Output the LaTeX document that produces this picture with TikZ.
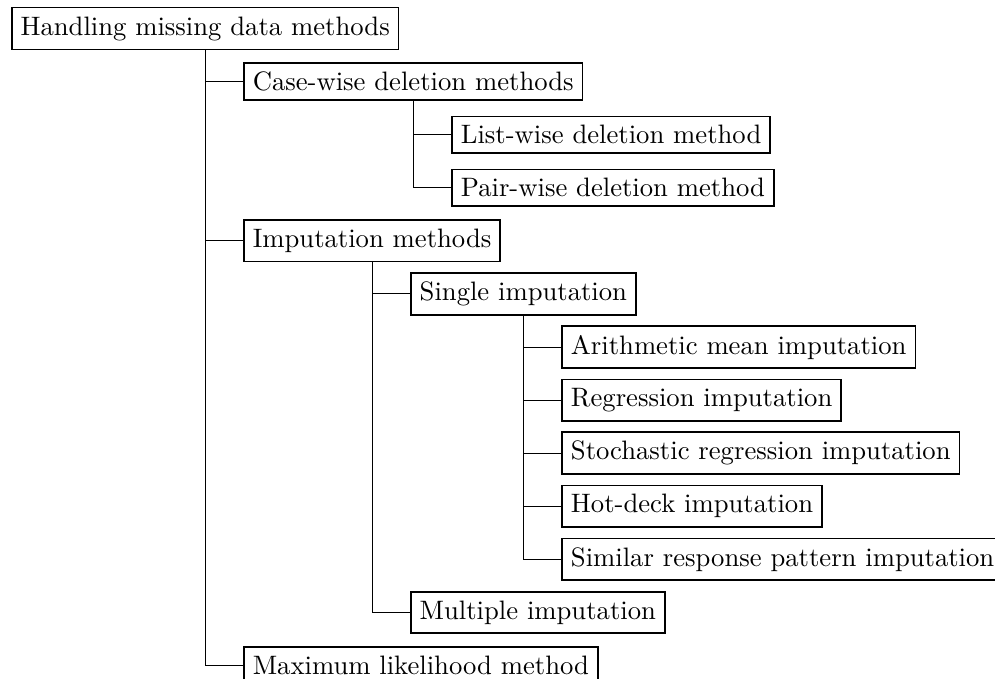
\documentclass[tikz,border=0pt]{standalone}
\usepackage{tikz}
\usetikzlibrary{positioning}

\begin{document}
\begin{tikzpicture}[node distance=0.7cm,on grid]
    \tikzstyle{method}=[shape=rectangle,draw,semithick,anchor=west]
    \tikzstyle{branch}=[to path={|- (\tikztotarget)}]

    \useasboundingbox (-4.1pt,10.7pt) rectangle (369.2pt,-244pt);

    \node[method] (root) at (0,0) {Handling missing data methods};
    \node[method, below right=0.7cm and 0.5cm of root, anchor=west] (case) {Case-wise deletion methods};
    \node[method, below right=0.7cm and 0.5cm of case, anchor=west] (list) {List-wise deletion method};
    \node[method, below=0.7cm of list.west, anchor=west] (pair) {Pair-wise deletion method};
    \node[method, below=2.1cm of case.west, anchor=west] (imp) {Imputation methods};
    \node[method, below right=0.7cm and 0.5cm of imp, anchor=west] (single) {Single imputation};
    \node[method, below right=0.7cm and 0.5cm of single, anchor=west] (mean) {Arithmetic mean imputation};
    \node[method, below=0.7cm of mean.west, anchor=west] (regr) {Regression imputation};
    \node[method, below=0.7cm of regr.west, anchor=west] (stoch) {Stochastic regression imputation};
    \node[method, below=0.7cm of stoch.west, anchor=west] (hot) {Hot-deck imputation};
    \node[method, below=0.7cm of hot.west, anchor=west] (similar) {Similar response pattern imputation};
    \node[method, below=4.2cm of single.west, anchor=west] (multi) {Multiple imputation};
    \node[method, below=5.6cm of imp.west, anchor=west] (maxl) {Maximum likelihood method};

    \path[draw]
    (root.south) edge[branch] (case.west)
    (root.south) edge[branch] (imp.west)
    (root.south) edge[branch] (maxl.west)
    (case.south) edge[branch] (list.west)
    (case.south) edge[branch] (pair.west)
    (imp.south) edge[branch] (single.west)
    (imp.south) edge[branch] (multi.west)
    (single.south) edge[branch] (mean.west)
    (single.south) edge[branch] (regr.west)
    (single.south) edge[branch] (stoch.west)
    (single.south) edge[branch] (hot.west)
    (single.south) edge[branch] (similar.west)
    ;

\end{tikzpicture}
\end{document}
